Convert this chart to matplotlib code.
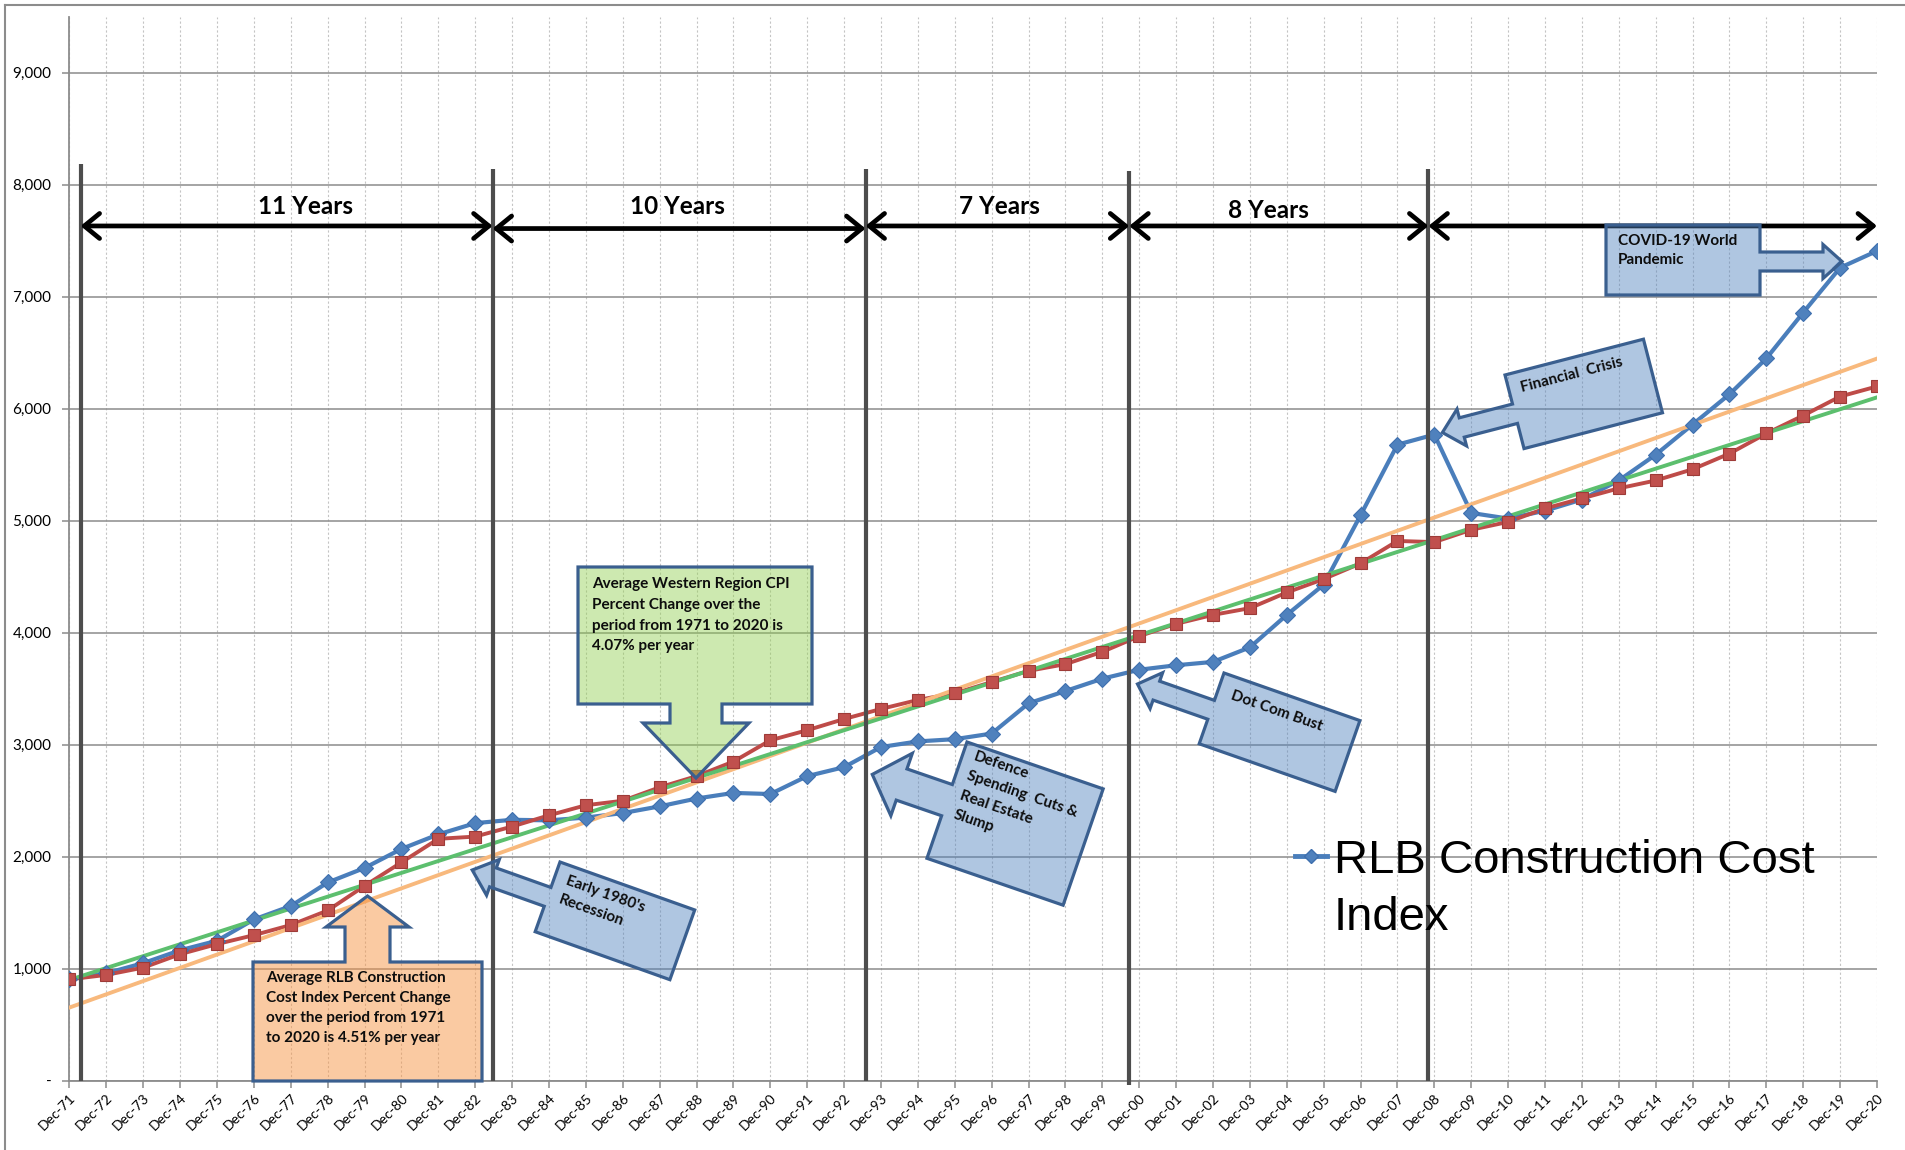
import numpy as np
import matplotlib
matplotlib.use("Agg")
import matplotlib.pyplot as plt
from matplotlib.patches import Polygon
from matplotlib.lines import Line2D
from matplotlib.ticker import FuncFormatter

# ---------------- data ----------------
categories = ["Dec-71", "Dec-72", "Dec-73", "Dec-74", "Dec-75", "Dec-76", "Dec-77", "Dec-78",
              "Dec-79", "Dec-80", "Dec-81", "Dec-82", "Dec-83", "Dec-84", "Dec-85", "Dec-86",
              "Dec-87", "Dec-88", "Dec-89", "Dec-90", "Dec-91", "Dec-92", "Dec-93", "Dec-94",
              "Dec-95", "Dec-96", "Dec-97", "Dec-98", "Dec-99", "Dec-00", "Dec-01", "Dec-02",
              "Dec-03", "Dec-04", "Dec-05", "Dec-06", "Dec-07", "Dec-08", "Dec-09", "Dec-10",
              "Dec-11", "Dec-12", "Dec-13", "Dec-14", "Dec-15", "Dec-16", "Dec-17", "Dec-18",
              "Dec-19", "Dec-20"]

rlb_index = [905, 960, 1050, 1165, 1250, 1440, 1560, 1770, 1900, 2070,
             2200, 2300, 2330, 2325, 2350, 2390, 2450, 2520, 2570, 2560,
             2720, 2800, 2980, 3030, 3050, 3100, 3370, 3480, 3590, 3670,
             3710, 3740, 3870, 4160, 4430, 5050, 5680, 5770, 5070, 5020,
             5090, 5190, 5360, 5590, 5860, 6130, 6450, 6860, 7260, 7410]

cpi_index = [905, 945, 1010, 1130, 1220, 1300, 1390, 1520, 1740, 1950,
             2160, 2180, 2270, 2370, 2460, 2500, 2620, 2720, 2850, 3040,
             3130, 3230, 3320, 3400, 3460, 3560, 3660, 3720, 3830, 3970,
             4080, 4160, 4220, 4360, 4480, 4620, 4820, 4810, 4920, 4990,
             5110, 5200, 5290, 5360, 5460, 5600, 5780, 5940, 6110, 6200]

y_ticks = [0, 1000, 2000, 3000, 4000, 5000, 6000, 7000, 8000, 9000]

period_bounds = [0.30, 11.47, 21.58, 28.73, 36.84, 49.0]
period_labels = ["11 Years", "10 Years", "7 Years", "8 Years"]

legend_label = "RLB Construction Cost"

# ---------------- style ----------------
BLUE = "#4A7EBB"
RED = "#BE4B48"
GREEN = "#5CBF6E"
ORANGE = "#F8B97D"
GRID = "#8C8C8C"
EDGE = "#3A5F8F"
FONT = "Lato"

W_PX, H_PX = 1906, 1150
fig = plt.figure(figsize=(W_PX / 100, H_PX / 100), dpi=100)
fig.patch.set_facecolor("white")

ax_l, ax_r, ax_t, ax_b = 69.5, 1877.0, 16.9, 1080.7
ax = fig.add_axes([ax_l / W_PX, (H_PX - ax_b) / H_PX, (ax_r - ax_l) / W_PX, (ax_b - ax_t) / H_PX])

x = np.arange(len(categories))
ax.set_xlim(0, len(categories) - 1)
ax.set_ylim(0, 9500)

ax.set_yticks(y_ticks)
ax.yaxis.set_major_formatter(FuncFormatter(lambda v, p: "-" if v == 0 else f"{int(v):,}"))
ax.set_xticks(x)
ax.set_xticklabels(categories, rotation=45, ha="right", va="top", rotation_mode="anchor",
                   fontsize=10, family=FONT)
for lbl in ax.get_yticklabels():
    lbl.set_fontfamily(FONT)
    lbl.set_fontsize(11)

ax.grid(axis="y", color=GRID, lw=1.1)
ax.grid(axis="x", color="#C4C4C4", lw=0.8, ls=(0, (2, 2)))
ax.set_axisbelow(True)
for s in ["top", "right"]:
    ax.spines[s].set_visible(False)
for s in ["left", "bottom"]:
    ax.spines[s].set_color(GRID)
    ax.spines[s].set_linewidth(1.3)
ax.tick_params(axis="both", direction="out", length=5, color=GRID, width=1.1)
ax.tick_params(axis="x", pad=3)
ax.tick_params(axis="y", pad=8)

# series lines
ax.plot(x, rlb_index, color=BLUE, lw=3.0, zorder=3, solid_joinstyle="round")
ax.plot(x, cpi_index, color=RED, lw=2.8, zorder=3.2, solid_joinstyle="round")

# linear trendlines
p_rlb = np.polyfit(x, rlb_index, 1)
p_cpi = np.polyfit(x, cpi_index, 1)
ax.plot(x, np.polyval(p_rlb, x), color=ORANGE, lw=2.8, zorder=3.5)
ax.plot(x, np.polyval(p_cpi, x), color=GREEN, lw=2.8, zorder=3.6)

# markers
ax.plot(x, rlb_index, ls="none", marker="D", ms=8.5, mfc="#4F81BD", mec="#3E6FAE", mew=0.8, zorder=4)
ax.plot(x, cpi_index, ls="none", marker="s", ms=8.5, mfc="#C0504D", mec="#9E3B38", mew=0.8, zorder=4.2)

# period dividers and arrows
divider_tops = [8185, 8141, 8141, 8120, 8141]
divider_bottoms = [0, 0, 0, -40, 0]
for xb, yt, yb in zip(period_bounds[:-1], divider_tops, divider_bottoms):
    ax.plot([xb, xb], [yb, yt], color="#4D4D4D", lw=3.0, zorder=6, clip_on=False,
            solid_capstyle="butt")

arrow_y = [7633, 7610, 7633, 7633, 7633]
for i in range(len(period_bounds) - 1):
    ax.annotate("", xy=(period_bounds[i + 1], arrow_y[i]), xytext=(period_bounds[i], arrow_y[i]),
                arrowprops=dict(arrowstyle="<->,head_length=0.55,head_width=0.45",
                                lw=3.4, color="black", shrinkA=0, shrinkB=0, mutation_scale=20),
                zorder=7, annotation_clip=False)

label_pos = [(6.41, 7805), (16.47, 7805), (25.2, 7805), (32.49, 7770)]
for (lx, ly), txt in zip(label_pos, period_labels):
    ax.text(lx, ly, txt, ha="center", va="center", fontsize=17.5, fontweight="bold",
            family=FONT, zorder=7)

# legend
handle = Line2D([], [], color=BLUE, lw=3.5, marker="D", ms=7, mfc="#4F81BD", mec="#3E6FAE")
leg = ax.legend([handle], [legend_label], loc="center left",
                bbox_to_anchor=(1295 / W_PX, (H_PX - 861) / H_PX), bbox_transform=fig.transFigure,
                frameon=False, borderpad=0, borderaxespad=0, handlelength=0.68,
                handletextpad=0.15, numpoints=1,
                prop=dict(family="Liberation Sans", size=34))
leg.set_zorder(5)

# ---------------- overlay in pixel coordinates ----------------
ov = fig.add_axes([0, 0, 1, 1], zorder=10)
ov.set_xlim(0, W_PX)
ov.set_ylim(H_PX, 0)
ov.axis("off")
ov.patch.set_alpha(0)

ov.text(1334, 918, "Index", va="center", ha="left", fontsize=34, family="Liberation Sans", zorder=1)

# chart frame (left & top)
ov.plot([5, 5], [5, H_PX], color=GRID, lw=1.5)
ov.plot([5, W_PX], [5, 5], color=GRID, lw=1.5)


def to_img(x0, y0, theta, u, v):
    th = np.radians(theta)
    u = np.asarray(u, float)
    v = np.asarray(v, float)
    return x0 + u * np.cos(th) - v * np.sin(th), y0 + u * np.sin(th) + v * np.cos(th)


def callout(x0, y0, W, H, side, c, shw, sl, hhw, hl, theta=0.0, fc="#4F81BD", alpha=0.45):
    if side == "left":
        pts = [(0, 0), (W, 0), (W, H), (0, H), (0, c + shw), (-sl, c + shw), (-sl, c + hhw),
               (-sl - hl, c), (-sl, c - hhw), (-sl, c - shw), (0, c - shw)]
    elif side == "right":
        pts = [(0, 0), (W, 0), (W, c - shw), (W + sl, c - shw), (W + sl, c - hhw), (W + sl + hl, c),
               (W + sl, c + hhw), (W + sl, c + shw), (W, c + shw), (W, H), (0, H)]
    elif side == "top":
        pts = [(0, 0), (c - shw, 0), (c - shw, -sl), (c - hhw, -sl), (c, -sl - hl), (c + hhw, -sl),
               (c + shw, -sl), (c + shw, 0), (W, 0), (W, H), (0, H)]
    else:  # bottom
        pts = [(0, 0), (W, 0), (W, H), (c + shw, H), (c + shw, H + sl), (c + hhw, H + sl),
               (c, H + sl + hl), (c - hhw, H + sl), (c - shw, H + sl), (c - shw, H), (0, H)]
    pts = np.array(pts, float)
    X, Y = to_img(x0, y0, theta, pts[:, 0], pts[:, 1])
    rgba = matplotlib.colors.to_rgba(fc, alpha)
    ov.add_patch(Polygon(np.c_[X, Y], closed=True, fc=rgba, ec=EDGE, lw=2.3, joinstyle="miter"))


def rtext(x0, y0, theta, u, v, s, weight="bold", size=11, ls=1.2):
    X, Y = to_img(x0, y0, theta, u, v)
    ov.text(float(X), float(Y), s, rotation=-theta, rotation_mode="anchor", ha="left", va="top",
            fontsize=size, fontweight=weight, family=FONT, linespacing=ls, color="#0D0D0D")


# Average RLB (orange, up arrow)
callout(253, 962, 229, 119, "top", 114.5, 22.5, 35, 41.5, 31, fc="#F79646", alpha=0.5)
rtext(253, 962, 0, 13, 9, "Average RLB Construction\nCost Index Percent Change\nover the period from 1971\nto 2020 is 4.51% per year",
      size=11, ls=1.55)

# Average CPI (green, down arrow)
callout(578, 567, 234, 137, "bottom", 118, 26, 19, 53, 55, fc="#92D050", alpha=0.45)
rtext(578, 567, 0, 14, 10, "Average Western Region CPI\nPercent Change over the\nperiod from 1971 to 2020 is\n4.07% per year",
      size=11, ls=1.62)

# Early 1980's Recession
callout(560, 862, 143, 74, "left", 37, 10, 58, 19, 22, theta=19.6)
rtext(560, 862, 19.6, 12, 8, "Early 1980's\nRecession", size=11, ls=1.55)

# Defence Spending Cuts & Real Estate Slump
callout(967, 742, 144, 123, "left", 61.5, 16.5, 48, 33, 31, theta=19.0)
rtext(967, 742, 19.0, 11, 4, "Defence\nSpending  Cuts &\nReal Estate\nSlump", size=11, ls=1.6)

# Dot Com Bust
callout(1224, 673, 144, 75, "left", 39, 10, 58, 19, 20, theta=19.3)
rtext(1224, 673, 19.3, 14, 12, "Dot Com Bust", size=11)

# Financial Crisis
callout(1505, 375, 143, 76, "left", 40, 10, 55, 19, 20, theta=-14.5)
rtext(1505, 375, -14.5, 12, 10, "Financial  Crisis", size=11)

# COVID-19
callout(1606, 225, 154, 70, "right", 36.5, 9.5, 63, 17, 19)
rtext(1606, 225, 0, 12, 9, "COVID-19 World\nPandemic", size=11, ls=1.5)

fig.savefig("out.png", dpi=100)
